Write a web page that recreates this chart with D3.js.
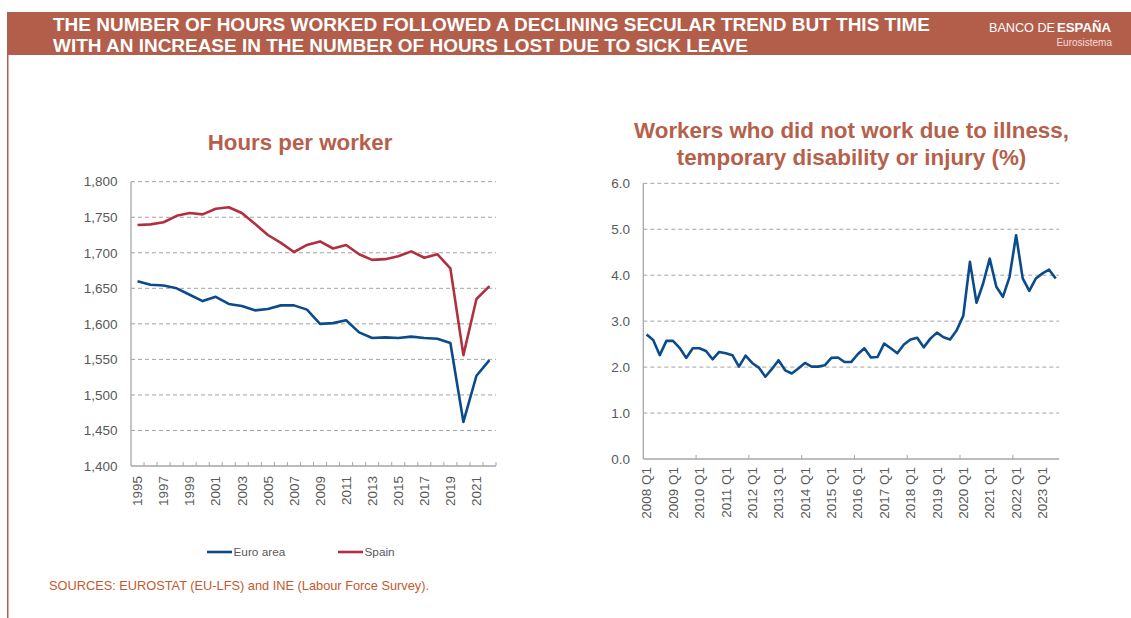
<!DOCTYPE html>
<html>
<head>
<meta charset="utf-8">
<script src="https://cdn.jsdelivr.net/npm/d3@7"></script>
<style>
  html, body { margin: 0; padding: 0; background: #fff; }
  svg { display: block; font-family: "Liberation Sans", Arial, sans-serif; }
</style>
</head>
<body>
<svg id="chart" width="1131" height="618"></svg>
<script>
// ---------- DATA ----------
const years = [1995,1996,1997,1998,1999,2000,2001,2002,2003,2004,2005,2006,2007,2008,2009,2010,2011,2012,2013,2014,2015,2016,2017,2018,2019,2020,2021,2022];
const euroArea = [1660,1655,1654,1650,1641,1632,1638,1628,1625,1619,1621,1626,1626,1620,1600,1601,1605,1588,1580,1581,1580,1582,1580,1579,1573,1462,1527,1549];
const spain = [1739,1740,1743,1752,1756,1754,1762,1764,1756,1741,1725,1714,1701,1711,1716,1706,1711,1698,1690,1691,1695,1702,1693,1698,1678,1556,1635,1653];
const hoursTicks = [1400,1450,1500,1550,1600,1650,1700,1750,1800];

const qYears = [2008,2009,2010,2011,2012,2013,2014,2015,2016,2017,2018,2019,2020,2021,2022,2023];
const quarters = [];
qYears.forEach(y => ["Q1","Q2","Q3","Q4"].forEach(q => quarters.push(y + " " + q)));
quarters.splice(63); // 2008 Q1 .. 2023 Q3
const sickLeave = [2.71,2.59,2.26,2.57,2.57,2.42,2.20,2.41,2.41,2.35,
                   2.17,2.33,2.30,2.26,2.01,2.25,2.09,1.99,1.79,1.96,
                   2.15,1.93,1.86,1.97,2.09,2.01,2.01,2.04,2.20,2.21,
                   2.11,2.11,2.28,2.41,2.21,2.22,2.51,2.41,2.30,2.49,
                   2.60,2.64,2.43,2.62,2.75,2.65,2.60,2.80,3.12,4.29,
                   3.40,3.82,4.36,3.75,3.53,3.96,4.87,3.93,3.66,3.93,
                   4.04,4.12,3.93];
const sickTicks = [0,1,2,3,4,5,6];

const seriesNames = ["Euro area", "Spain"];

// ---------- STYLE ----------
const BANNER = "#b35e4a";
const TITLE_C = "#b5604b";
const BLUE = "#0b4a8b";
const RED = "#b0303f";
const GRID = "#a3a3a3";
const AXIS = "#a6a6a6";
const LABEL = "#595959";

const svg = d3.select("#chart");

// ---------- HEADER ----------
svg.append("rect").attr("x", 7).attr("y", 12).attr("width", 1124).attr("height", 43).attr("fill", BANNER);
svg.append("rect").attr("x", 7).attr("y", 55).attr("width", 1.5).attr("height", 563).attr("fill", BANNER);

svg.append("text").attr("x", 53).attr("y", 30.5)
  .attr("fill", "#fff").attr("font-weight", "bold").attr("font-size", 17.5)
  .attr("textLength", 877).attr("lengthAdjust", "spacingAndGlyphs")
  .text("THE NUMBER OF HOURS WORKED FOLLOWED A DECLINING SECULAR TREND BUT THIS TIME");
svg.append("text").attr("x", 53).attr("y", 51.5)
  .attr("fill", "#fff").attr("font-weight", "bold").attr("font-size", 17.5)
  .attr("textLength", 695).attr("lengthAdjust", "spacingAndGlyphs")
  .text("WITH AN INCREASE IN THE NUMBER OF HOURS LOST DUE TO SICK LEAVE");

const logo = svg.append("text").attr("x", 989).attr("y", 32.3).attr("fill", "#fff").attr("font-size", 12.5);
logo.append("tspan").attr("font-weight", "normal").attr("textLength", 66).attr("lengthAdjust", "spacingAndGlyphs").text("BANCO DE");
logo.append("tspan").attr("x", 1057).attr("font-weight", "bold").attr("textLength", 54).attr("lengthAdjust", "spacingAndGlyphs").text("ESPAÑA");
svg.append("text").attr("x", 1112).attr("y", 45.7).attr("text-anchor", "end")
  .attr("fill", "#f3dcd4").attr("font-size", 10).text("Eurosistema");

// ---------- LEFT CHART ----------
const xL = d3.scaleBand().domain(years).range([131, 496]);
const yL = d3.scaleLinear().domain([1400, 1800]).range([466, 181.7]);

svg.append("text").attr("x", 300).attr("y", 150).attr("text-anchor", "middle")
  .attr("fill", TITLE_C).attr("font-weight", "bold").attr("font-size", 22.3)
  .text("Hours per worker");

const gL = svg.append("g");
gL.selectAll("line.grid").data(hoursTicks.filter(t => t > 1400)).join("line")
  .attr("x1", 131).attr("x2", 496)
  .attr("y1", d => yL(d)).attr("y2", d => yL(d))
  .attr("stroke", GRID).attr("stroke-width", 1).attr("stroke-dasharray", "4,3");
gL.selectAll("text.ylab").data(hoursTicks).join("text")
  .attr("x", 117.5).attr("y", d => yL(d)).attr("dy", "0.35em")
  .attr("text-anchor", "end").attr("fill", LABEL).attr("font-size", 13.5)
  .text(d => d3.format(",")(d));
gL.append("line").attr("x1", 131).attr("x2", 131).attr("y1", 181.7).attr("y2", 466).attr("stroke", AXIS).attr("stroke-width", 1.3);
gL.append("line").attr("x1", 131).attr("x2", 496).attr("y1", 466).attr("y2", 466).attr("stroke", AXIS).attr("stroke-width", 1.3);
gL.selectAll("line.tk").data(years).join("line")
  .attr("x1", d => xL(d) + xL.bandwidth()).attr("x2", d => xL(d) + xL.bandwidth())
  .attr("y1", 466).attr("y2", 462).attr("stroke", AXIS).attr("stroke-width", 1);
gL.selectAll("text.xlab").data(years.filter((d, i) => i % 2 === 0)).join("text")
  .attr("transform", d => `translate(${xL(d) + xL.bandwidth() / 2},476) rotate(-90)`)
  .attr("dy", "0.35em").attr("text-anchor", "end")
  .attr("fill", LABEL).attr("font-size", 13.5).text(d => d);

const lineL = d3.line().x((d, i) => xL(years[i]) + xL.bandwidth() / 2).y(d => yL(d));
gL.append("path").datum(euroArea).attr("d", lineL).attr("fill", "none")
  .attr("stroke", BLUE).attr("stroke-width", 2.6).attr("stroke-linejoin", "round");
gL.append("path").datum(spain).attr("d", lineL).attr("fill", "none")
  .attr("stroke", RED).attr("stroke-width", 2.6).attr("stroke-linejoin", "round");

// legend
const legendItems = [
  { name: seriesNames[0], color: BLUE, x: 207 },
  { name: seriesNames[1], color: RED, x: 338 }
];
const lg = svg.append("g");
lg.selectAll("line").data(legendItems).join("line")
  .attr("x1", d => d.x).attr("x2", d => d.x + 25).attr("y1", 552).attr("y2", 552)
  .attr("stroke", d => d.color).attr("stroke-width", 2.6);
lg.selectAll("text").data(legendItems).join("text")
  .attr("x", d => d.x + 26.5).attr("y", 552).attr("dy", "0.35em")
  .attr("fill", LABEL).attr("font-size", 11.8).text(d => d.name);

// sources
svg.append("text").attr("x", 49).attr("y", 590).attr("fill", "#c4592d").attr("font-size", 13)
  .attr("textLength", 380).attr("lengthAdjust", "spacingAndGlyphs")
  .text("SOURCES: EUROSTAT (EU-LFS) and INE (Labour Force Survey).");

// ---------- RIGHT CHART ----------
const xR = d3.scaleBand().domain(quarters).range([643.3, 1059]);
const yR = d3.scaleLinear().domain([0, 6]).range([459, 183.3]);

const tR = svg.append("text").attr("text-anchor", "middle").attr("fill", TITLE_C)
  .attr("font-weight", "bold").attr("font-size", 22.4);
tR.append("tspan").attr("x", 851.5).attr("y", 138.3).text("Workers who did not work due to illness,");
tR.append("tspan").attr("x", 851.5).attr("y", 165).text("temporary disability or injury (%)");

const gR = svg.append("g");
gR.selectAll("line.grid").data(sickTicks.filter(t => t > 0)).join("line")
  .attr("x1", 643.3).attr("x2", 1059)
  .attr("y1", d => yR(d)).attr("y2", d => yR(d))
  .attr("stroke", GRID).attr("stroke-width", 1).attr("stroke-dasharray", "4,3");
gR.selectAll("text.ylab").data(sickTicks).join("text")
  .attr("x", 630).attr("y", d => yR(d)).attr("dy", "0.35em")
  .attr("text-anchor", "end").attr("fill", LABEL).attr("font-size", 13.5)
  .text(d => d3.format(".1f")(d));
gR.append("line").attr("x1", 643.3).attr("x2", 643.3).attr("y1", 183.3).attr("y2", 459).attr("stroke", AXIS).attr("stroke-width", 1.3);
gR.append("line").attr("x1", 643.3).attr("x2", 1059).attr("y1", 459).attr("y2", 459).attr("stroke", AXIS).attr("stroke-width", 1.3);
gR.selectAll("line.tk").data(quarters.filter((d, i) => i > 0 && i % 8 === 0)).join("line")
  .attr("x1", d => xR(d)).attr("x2", d => xR(d))
  .attr("y1", 459).attr("y2", 455).attr("stroke", AXIS).attr("stroke-width", 1);
gR.selectAll("text.xlab").data(quarters.filter((d, i) => i % 4 === 0)).join("text")
  .attr("transform", d => `translate(${xR(d) + xR.bandwidth() / 2},467) rotate(-90)`)
  .attr("dy", "0.35em").attr("text-anchor", "end")
  .attr("fill", LABEL).attr("font-size", 13.5).text(d => d);

const lineR = d3.line().x((d, i) => xR(quarters[i]) + xR.bandwidth() / 2).y(d => yR(d));
gR.append("path").datum(sickLeave).attr("d", lineR).attr("fill", "none")
  .attr("stroke", BLUE).attr("stroke-width", 2.6).attr("stroke-linejoin", "round");
</script>
</body>
</html>
